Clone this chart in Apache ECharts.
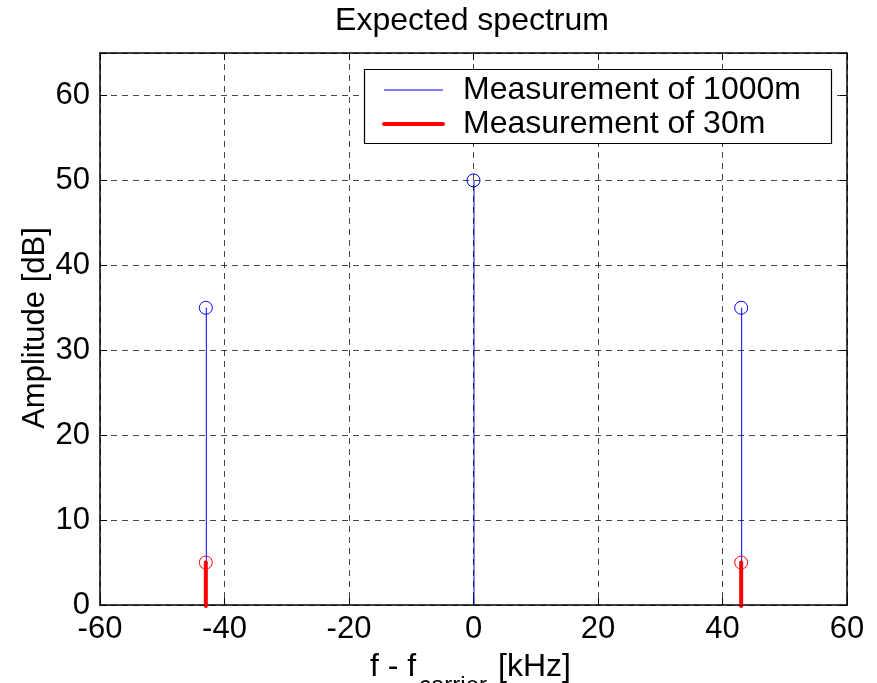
<!DOCTYPE html>
<html><head><meta charset="utf-8">
<script src="https://cdn.jsdelivr.net/npm/echarts@6/dist/echarts.min.js"></script>
<style>html,body{margin:0;padding:0;background:#fff}#c{width:877px;height:683px}</style>
</head><body><div id="c"></div>
<script>
const freq1000 = [-43, 0, 43];
const amp1000 = [35, 50, 35];
const freq30 = [-43, 43];
const amp30 = [5, 5];
const xTicks = [-60, -40, -20, 0, 20, 40, 60];
const yTicks = [0, 10, 20, 30, 40, 50, 60];
const titleText = 'Expected spectrum';
const legendNames = ['Measurement of 1000m', 'Measurement of 30m'];

const FONT = 'Liberation Sans';
const chart = echarts.init(document.getElementById('c'));

function stem(color, width, cap) {
  return function (params, api) {
    const x = api.value(0), y = api.value(1);
    const p0 = api.coord([x, 0]), p1 = api.coord([x, y]);
    const r = 6.5;
    const lx = p0[0] + (cap ? 0 : 0.5);
    return {
      type: 'group',
      children: [
        { type: 'line', shape: { x1: lx, y1: p0[1] + (cap ? 1 : 0), x2: lx, y2: p1[1] },
          style: { stroke: color, lineWidth: width, lineCap: cap ? 'round' : 'butt' } },
        { type: 'circle', shape: { cx: p1[0], cy: p1[1], r: r },
          style: { fill: null, stroke: color, lineWidth: 1 } }
      ]
    };
  };
}

function txt(s, x, y, size, align) {
  return { type: 'text', x: x, y: y, z: 21,
    style: { text: s, font: size + 'px "' + FONT + '"', fill: '#000', align: align, verticalAlign: 'middle' } };
}

const gridLine = { show: true, lineStyle: { color: '#000', opacity: 0.72, width: 1, type: [6, 5] } };
const tickStyle = { show: true, inside: true, length: 7, lineStyle: { color: '#000', width: 1 } };
const lineStyle = { show: true, onZero: false, lineStyle: { color: '#000', width: 1.5 } };

chart.setOption({
  animation: false,
  grid: { left: 100, right: 30, top: 53, bottom: 78 },
  xAxis: [
    { type: 'value', min: xTicks[0], max: xTicks[xTicks.length - 1], interval: 20, position: 'bottom',
      axisLine: lineStyle, axisTick: tickStyle, splitLine: { show: false },
      axisLabel: { fontFamily: FONT, fontSize: 31, color: '#000', margin: 9 } },
    { type: 'value', min: xTicks[0], max: xTicks[xTicks.length - 1], interval: 20, position: 'top', z: 5,
      axisLine: lineStyle, axisTick: tickStyle, splitLine: gridLine, axisLabel: { show: false } }
  ],
  yAxis: [
    { type: 'value', min: 0, max: 65, interval: 10, position: 'left',
      axisLine: lineStyle, axisTick: tickStyle, splitLine: { show: false },
      axisLabel: { fontFamily: FONT, fontSize: 31, color: '#000', margin: 10,
        formatter: v => (yTicks.indexOf(v) >= 0 ? String(v) : '') } },
    { type: 'value', min: 0, max: 65, interval: 10, position: 'right', z: 5,
      axisLine: lineStyle, axisTick: tickStyle, splitLine: gridLine, axisLabel: { show: false } }
  ],
  series: [
    { type: 'custom', name: legendNames[0], renderItem: stem('#0000ff', 1, false), z: 2,
      data: freq1000.map((f, i) => [f, amp1000[i]]) },
    { type: 'custom', name: legendNames[1], renderItem: stem('#ff0000', 4, true), z: 3,
      data: freq30.map((f, i) => [f, amp30[i]]) }
  ],
  graphic: [
    txt(titleText, 472, 21, 32, 'center'),
    { type: 'text', x: 35, y: 328, rotation: Math.PI / 2, z: 10,
      style: { text: 'Amplitude [dB]', font: '31px "' + FONT + '"', fill: '#000', align: 'center', verticalAlign: 'middle' } },
    txt('f - f', 370, 667, 32, 'left'),
    txt('carrier', 419, 686, 24, 'left'),
    txt('[kHz]', 571, 667, 32, 'right'),
    { type: 'rect', z: 20, shape: { x: 364.5, y: 69.5, width: 467, height: 74 },
      style: { fill: '#fff', stroke: '#000', lineWidth: 1.2 } },
    { type: 'line', z: 21, shape: { x1: 384, y1: 90, x2: 443, y2: 90 }, style: { stroke: '#0000ff', lineWidth: 1 } },
    { type: 'line', z: 21, shape: { x1: 384, y1: 124, x2: 443, y2: 124 }, style: { stroke: '#ff0000', lineWidth: 4, lineCap: 'round' } },
    txt(legendNames[0], 463, 90, 32, 'left'),
    txt(legendNames[1], 463, 124, 32, 'left')
  ]
});
</script></body></html>
